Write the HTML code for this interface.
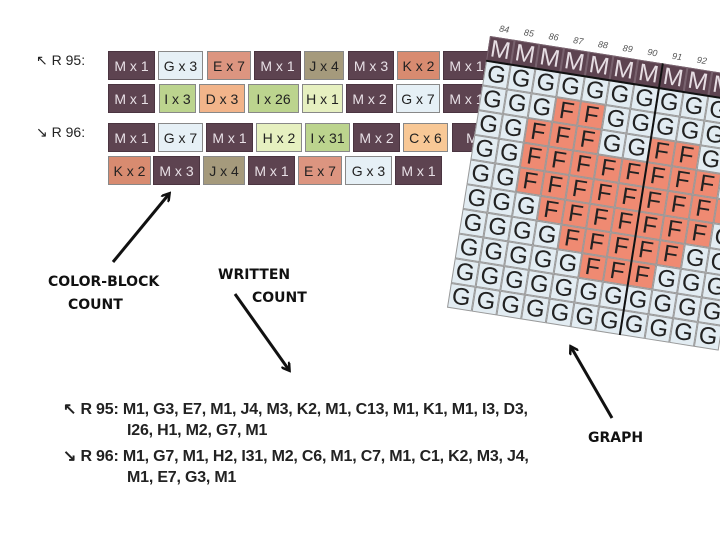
<!DOCTYPE html>
<html><head><style>
body{margin:0;width:720px;height:540px;background:#fff;position:relative;overflow:hidden;font-family:"Liberation Sans",sans-serif}
.b{position:absolute;height:29px;line-height:29px;text-align:center;font-size:14px;color:#222;box-sizing:border-box;border:1px solid #888}
.M{background:#5d4350;color:#e8e0e6;border-color:#4a3440}
.G{background:#e6f0f6}.E{background:#dc9580}.J{background:#a59a7c}.K{background:#d88b70}
.I{background:#bcd48e}.D{background:#f2b48a}.H{background:#e6f0c0}.C{background:#f8c896}
.lbl{position:absolute;font-size:14px;color:#222}
.t{position:absolute;font-weight:bold;font-size:16px;color:#222;left:63px;letter-spacing:-0.2px}
.h{position:absolute;font-weight:bold;font-size:14px;color:#111;font-family:"DejaVu Sans",sans-serif}
#grid{position:absolute;left:490px;top:36px;transform:rotate(9deg);transform-origin:0 0}
.c{position:absolute;width:25px;height:25px;box-sizing:border-box;border:1px solid #999;font-size:24px;line-height:24px;text-align:center;color:#222;background:#e2ecf2}
.c.f{background:#ef8a72}.c.m{background:#5d4350;color:#e6dde3;border-color:#7a6470}
.n{position:absolute;font-size:9px;color:#555;font-style:italic}
</style></head><body>
<div class="lbl" style="left:36px;top:52px">↖ R 95:</div>
<div class="lbl" style="left:36px;top:124px">↘ R 96:</div>

<div class="b M" style="left:108px;top:51px;width:47px">M x 1</div>
<div class="b G" style="left:158px;top:51px;width:45px">G x 3</div>
<div class="b E" style="left:207px;top:51px;width:44px">E x 7</div>
<div class="b M" style="left:254px;top:51px;width:47px">M x 1</div>
<div class="b J" style="left:304px;top:51px;width:40px">J x 4</div>
<div class="b M" style="left:348px;top:51px;width:46px">M x 3</div>
<div class="b K" style="left:397px;top:51px;width:43px">K x 2</div>
<div class="b M" style="left:443px;top:51px;width:47px">M x 1</div>

<div class="b M" style="left:108px;top:84px;width:47px">M x 1</div>
<div class="b I" style="left:159px;top:84px;width:37px">I x 3</div>
<div class="b D" style="left:199px;top:84px;width:46px">D x 3</div>
<div class="b I" style="left:248px;top:84px;width:51px">I x 26</div>
<div class="b H" style="left:302px;top:84px;width:41px">H x 1</div>
<div class="b M" style="left:346px;top:84px;width:47px">M x 2</div>
<div class="b G" style="left:396px;top:84px;width:44px">G x 7</div>
<div class="b M" style="left:443px;top:84px;width:47px">M x 1</div>

<div class="b M" style="left:108px;top:123px;width:47px">M x 1</div>
<div class="b G" style="left:158px;top:123px;width:45px">G x 7</div>
<div class="b M" style="left:206px;top:123px;width:47px">M x 1</div>
<div class="b H" style="left:256px;top:123px;width:46px">H x 2</div>
<div class="b I" style="left:305px;top:123px;width:45px">I x 31</div>
<div class="b M" style="left:353px;top:123px;width:47px">M x 2</div>
<div class="b C" style="left:403px;top:123px;width:45px">C x 6</div>
<div class="b M" style="left:452px;top:123px;width:40px">M</div>

<div class="b K" style="left:108px;top:156px;width:43px">K x 2</div>
<div class="b M" style="left:153px;top:156px;width:47px">M x 3</div>
<div class="b J" style="left:203px;top:156px;width:42px">J x 4</div>
<div class="b M" style="left:248px;top:156px;width:47px">M x 1</div>
<div class="b E" style="left:298px;top:156px;width:44px">E x 7</div>
<div class="b G" style="left:345px;top:156px;width:47px">G x 3</div>
<div class="b M" style="left:395px;top:156px;width:47px">M x 1</div>

<div id="grid"></div>

<svg width="720" height="540" style="position:absolute;left:0;top:0" >
<defs><marker id="a" markerWidth="10" markerHeight="10" refX="7" refY="5" orient="auto" markerUnits="userSpaceOnUse"><path d="M0,0 L8,5 L0,10" fill="none" stroke="#111" stroke-width="2.5"/></marker></defs>
<line x1="113" y1="262" x2="169" y2="194" stroke="#111" stroke-width="3" marker-end="url(#a)"/>
<line x1="235" y1="294" x2="289" y2="370" stroke="#111" stroke-width="3" marker-end="url(#a)"/>
<line x1="612" y1="418" x2="571" y2="347" stroke="#111" stroke-width="3" marker-end="url(#a)"/>
</svg>

<div class="h" style="left:48px;top:274px">COLOR-BLOCK</div>
<div class="h" style="left:68px;top:297px">COUNT</div>
<div class="h" style="left:218px;top:267px">WRITTEN</div>
<div class="h" style="left:252px;top:290px">COUNT</div>
<div class="h" style="left:588px;top:430px">GRAPH</div>

<div class="t" style="top:399px">↖ R 95: M1, G3, E7, M1, J4, M3, K2, M1, C13, M1, K1, M1, I3, D3,</div>
<div class="t" style="top:422px;left:127px">I26, H1, M2, G7, M1</div>
<div class="t" style="top:446px">↘ R 96: M1, G7, M1, H2, I31, M2, C6, M1, C7, M1, C1, K2, M3, J4,</div>
<div class="t" style="top:469px;left:127px">M1, E7, G3, M1</div>

<script>
var rows=["MMMMMMMMMMM","GGGGGGGGGGG","GGGFFGGGGGG","GGFFFGGFFGG","GGFFFFFFFFG","GGFFFFFFFFF","GGGFFFFFFFG","GGGGFFFFFGG","GGGGGFFFGGG","GGGGGGGGGGG","GGGGGGGGGGG"];
var g=document.getElementById('grid'),h='';
for(var r=0;r<rows.length;r++)for(var c=0;c<11;c++){var ch=rows[r][c];
h+='<div class="c'+(ch=='F'?' f':ch=='M'?' m':'')+'" style="left:'+c*25+'px;top:'+r*25+'px">'+ch+'</div>';}
for(var c=0;c<9;c++)h+='<div class="n" style="left:'+(c*25+8)+'px;top:-14px">'+(84+c)+'</div>';
h+='<div style="position:absolute;left:0;top:24px;width:275px;height:2px;background:#111"></div>';
h+='<div style="position:absolute;left:174px;top:0;width:2px;height:275px;background:#111"></div>';
g.innerHTML=h;
</script>
</body></html>
